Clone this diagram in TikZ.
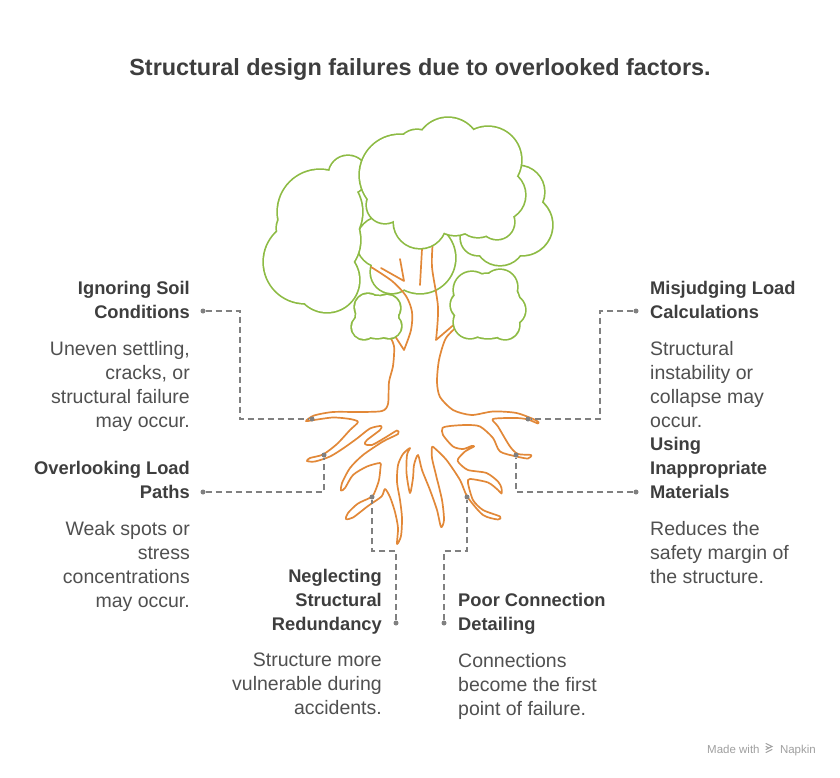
\documentclass[tikz,border=0pt]{standalone}
\usepackage{fontspec}
\setmainfont{Liberation Sans}
\usepackage{tikz}
\usepackage{xcolor}
\definecolor{leafgreen}{RGB}{141,187,68}
\definecolor{barkorange}{RGB}{226,136,56}
\definecolor{titlegray}{RGB}{62,62,62}
\definecolor{textgray}{RGB}{80,80,80}
\definecolor{leadergray}{RGB}{128,128,128}
\definecolor{creditgray}{RGB}{160,160,160}
\tikzset{
    label-title/.style = {text=titlegray, font=\fontsize{18.3}{24}\selectfont\bfseries, inner sep=0pt},
    label-text/.style = {text=textgray, font=\fontsize{19.5}{24}\selectfont, inner sep=0pt},
    leader-line/.style = {draw=leadergray, line width=1.8pt, dash pattern=on 6pt off 4pt},
    leader-dot/.style = {circle, fill=leadergray, inner sep=0pt, minimum size=5pt},
    bark-line/.style = {draw=barkorange, line width=1.7pt, line cap=round, line join=round},
    credit/.style = {text=creditgray, font=\fontsize{11.5}{13}\selectfont, inner sep=0pt},
}
\newcommand{\leafcloud}[1]{%
    \foreach \cx/\cy/\rad in {#1} \fill[leafgreen] (\cx,\cy) circle[radius={(\rad+1.7)*1pt}];
    \foreach \cx/\cy/\rad in {#1} \fill[white] (\cx,\cy) circle[radius={\rad*1pt}];
}

\begin{document}
\begin{tikzpicture}[x=1pt, y=-1pt]
\path[use as bounding box, fill=white] (0,0) rectangle (840,778);

\node[font=\fontsize{23.4}{28}\selectfont\bfseries, text=titlegray, anchor=base] (title) at (420,76) {Structural design failures due to overlooked factors.};

\leafcloud{382/242/25, 392/272/21, 420/258/35}
\leafcloud{320/212/42, 295/228/18, 305/262/41, 327/280/32, 348/175/19, 320/240/40}
\leafcloud{518/192/26, 522/225/30, 500/240/25, 478/238/17, 500/205/25}

\draw[bark-line] plot[smooth, tension=0.5] coordinates {(371,267) (392,281) (406,296) (412,312) (411,330) (404,350)} -- (393,333);
\draw[bark-line] (381,268) -- (404,281) -- (400,259);
\draw[bark-line] (422,249) -- (420,285);
\draw[bark-line] plot[smooth, tension=0.5] coordinates {(433,240) (432,267) (438,307) (436,340)} -- (457,322);
\draw[bark-line] plot[smooth, tension=0.45] coordinates {
    (388,333) (394,346) (393,366) (389,382) (388,404) (382,411) (360,412) (333,412) (314,415.5) (306,421) (314,420) (333,417.5) (350,419) (358,422)
    (350,430) (337,444) (323,454.5) (310,458) (307,461) (315,461.5) (330,456.5) (343,448.5) (357,438.5) (370,428.5) (381,426)
    (380,430) (367,440) (365,444) (372,445) (387,436.5) (397,430.5) (398,434) (383,441.5) (363,455) (350,468) (342,483) (341,490.5)
    (345,488) (353,475) (367,466.5) (380,463) (380.5,467) (379,480) (375,491.5) (371.5,497) (358,503.5) (348,513) (346,519)
    (353,517.5) (368,506) (381.5,496.5) (385,489) (390,497) (395,512) (398,528) (397,544) (401,536) (402,518) (400,500) (397,482) (398,465) (403,454) (410,448)
    (407,455) (406.5,473) (410,493) (413,478) (414,465) (418,455) (422,470) (430,490) (437,510) (441,527) (444,520) (442,500) (436,475) (432,458) (432,447)
    (435,448.5) (446.5,460) (460,480) (467.5,497) (483,515) (498,519.5) (500,516.5) (483,510) (473,500) (468,483) (470,479) (488,482.5) (498,490) (501.5,493.5)
    (501.5,488) (498,481.5) (486.5,473) (468,470) (459,463) (458,459) (465,451.5) (474,446.5) (471.5,446) (463,449) (453,446.5) (443,435) (442.5,428) (450,426) (466.5,425) (480,426.5) (493,438) (500,451.5) (516.5,456.5) (528,458.5) (531,455)
    (518,454) (510,446.5) (498,426.5) (493,419) (516.5,418) (528,419.5) (538,423.5) (536.5,420.5) (516.5,413) (493,411.5) (471.5,415) (453,410) (440,397) (437,382) (439,360) (446,338) (461,323)};

\leafcloud{400/175/40, 417/150/20, 448/150/32, 488/160/33, 500/195/25, 497/222/17, 478/215/22, 455/210/25, 420/222/26, 385/205/18, 450/185/35}
\leafcloud{377/317/21, 368/307/13, 387/308/13, 364/327/12, 389/326/12}
\leafcloud{488/306/32, 472/290/18, 500/287/17, 510/310/15, 470/322/16, 505/325/14, 465/305/14}

\node[leader-dot] (soil-a) at (203,311) {};
\node[leader-dot] (soil-b) at (312,419) {};
\node[leader-dot] (paths-a) at (203,492) {};
\node[leader-dot] (paths-b) at (324,455) {};
\node[leader-dot] (load-a) at (636,311) {};
\node[leader-dot] (load-b) at (528,419) {};
\node[leader-dot] (mat-a) at (636,492) {};
\node[leader-dot] (mat-b) at (516,455) {};
\node[leader-dot] (red-a) at (396,623) {};
\node[leader-dot] (red-b) at (372,497) {};
\node[leader-dot] (poor-a) at (444,623) {};
\node[leader-dot] (poor-b) at (467,497) {};

\draw[leader-line] (soil-a) -- ++(37,0) |- (soil-b);
\draw[leader-line] (paths-a) -| (paths-b);
\draw[leader-line] (load-a) -- ++(-36,0) |- (load-b);
\draw[leader-line] (mat-a) -| (mat-b);
\draw[leader-line] (red-a) -- ++(0,-72) -| (red-b);
\draw[leader-line] (poor-a) -- ++(0,-72) -| (poor-b);

\node[label-title, anchor=north east, align=right] (soil-title) at (190,281) {Ignoring Soil\\Conditions};
\node[label-text, anchor=north east, align=right] (soil-text) at (190,341) {Uneven settling,\\cracks, or\\structural failure\\may occur.};
\node[label-title, anchor=north east, align=right] (paths-title) at (190,461) {Overlooking Load\\Paths};
\node[label-text, anchor=north east, align=right] (paths-text) at (190,521) {Weak spots or\\stress\\concentrations\\may occur.};
\node[label-title, anchor=north west, align=left] (load-title) at (650,281) {Misjudging Load\\Calculations};
\node[label-text, anchor=north west, align=left] (load-text) at (650,341) {Structural\\instability or\\collapse may\\occur.};
\node[label-title, anchor=north west, align=left] (mat-title) at (650,437) {Using\\Inappropriate\\Materials};
\node[label-text, anchor=north west, align=left] (mat-text) at (650,521) {Reduces the\\safety margin of\\the structure.};
\node[label-title, anchor=north east, align=right] (red-title) at (382,569) {Neglecting\\Structural\\Redundancy};
\node[label-text, anchor=north east, align=right] (red-text) at (382,653) {Structure more\\vulnerable during\\accidents.};
\node[label-title, anchor=north west, align=left] (poor-title) at (458,593) {Poor Connection\\Detailing};
\node[label-text, anchor=north west, align=left] (poor-text) at (458,653) {Connections\\become the first\\point of failure.};

\node[credit, anchor=base west] (credit-made) at (707,753) {Made with};
\node[credit, anchor=base east] (credit-napkin) at (816,753) {Napkin};
\draw[creditgray, line width=1pt, line cap=round] (766,743.5) -- (772,746.5) -- (766,749.5) (766,746.5) -- (769,748) (766,752.5) -- (772,749.5);
\end{tikzpicture}
\end{document}
